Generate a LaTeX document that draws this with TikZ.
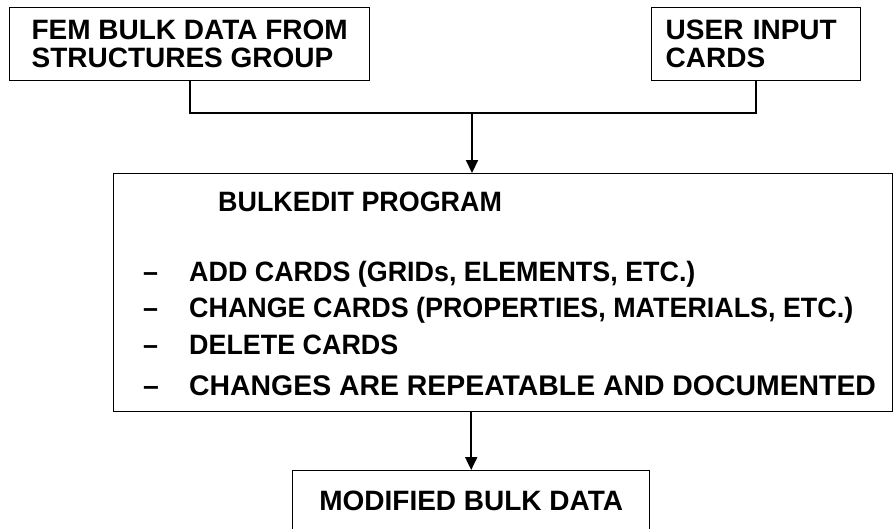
\documentclass[tikz,border=0pt]{standalone}
\usepackage{fontspec}
\setmainfont{Liberation Sans}
\newfontfamily\condfont[FakeStretch=0.96]{Liberation Sans}
\usetikzlibrary{arrows.meta,positioning}

\tikzset{
  flowbox/.style={draw, line width=1.4pt, inner sep=0pt, align=left,
    font=\bfseries\fontsize{28}{28}\selectfont},
  flowline/.style={line width=2pt},
  flowarrow/.style={flowline, -{Triangle[length=13pt,width=12pt]}},
  itemtext/.style={anchor=base west, inner sep=0pt,
    font=\condfont\bfseries\fontsize{28}{30}\selectfont},
  itemwide/.style={itemtext, font=\bfseries\fontsize{28.4}{30}\selectfont},
}

\begin{document}
\begin{tikzpicture}[x=1pt,y=-1pt]
  \useasboundingbox (0,0) rectangle (894,528);

  % Input boxes
  \node[flowbox, minimum width=360pt, minimum height=73pt, anchor=north west] (fem) at (9,7)
    {FEM BULK DATA FROM\\STRUCTURES GROUP};
  \node[flowbox, text width=181pt, inner xsep=14pt, minimum height=73pt, anchor=north west] (user) at (651,7)
    {USER INPUT\\CARDS};

  % Program box
  \node[draw, line width=1.4pt, minimum width=779pt, minimum height=238pt, anchor=north west] (prog) at (113,173) {};
  \node[itemtext] (title) at (218,211) {BULKEDIT PROGRAM};
  \node[itemtext] (d1) at (143,281) {\textendash};
  \node[itemtext] (add) at (189,281) {ADD CARDS (GRIDs, ELEMENTS, ETC.)};
  \node[itemtext] (d2) at (143,317) {\textendash};
  \node[itemtext] (change) at (189,317) {CHANGE CARDS (PROPERTIES, MATERIALS, ETC.)};
  \node[itemtext] (d3) at (143,354) {\textendash};
  \node[itemtext] (delete) at (189,354) {DELETE CARDS};
  \node[itemwide] (d4) at (143,395) {\textendash};
  \node[itemwide] (repeat) at (189,395) {CHANGES ARE REPEATABLE AND DOCUMENTED};

  % Output box
  \node[flowbox, minimum width=357pt, minimum height=60pt, anchor=north west] (mod) at (292,470)
    {MODIFIED BULK DATA};

  % Connections
  \coordinate (join) at (472,113);
  \draw[flowline] (fem.south) |- (join) -| (user.south);
  \draw[flowarrow] (join) -- (join |- prog.north);
  \draw[flowarrow] (mod.north |- prog.south) -- (mod.north);
\end{tikzpicture}
\end{document}
